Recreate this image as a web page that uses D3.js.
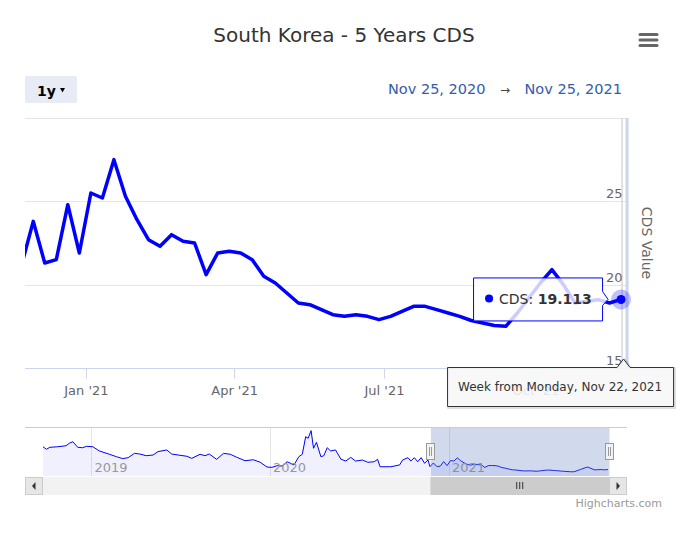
<!DOCTYPE html>
<html>
<head>
<meta charset="utf-8">
<script src="https://cdn.jsdelivr.net/npm/d3@7/dist/d3.min.js"></script>
<style>
  body { margin: 0; background: #fff; }
  svg { display: block; font-family: "DejaVu Sans", Verdana, sans-serif; }
</style>
</head>
<body>
<svg id="chart" width="692" height="538"></svg>
<script>
// chart texts
var chartTitle = "South Korea - 5 Years CDS";
var seriesName = "CDS";
var axisTitle = "CDS Value";
var rangeButton = "1y";
var creditText = "Highcharts.com";

// visible range and weekly series (weeks start on Monday)
var rangeStart = "2020-11-25",
    rangeEnd = "2021-11-25",
    firstWeek = "2020-11-23";

var cdsValues = [
    21.2, 23.8, 21.3, 21.5, 24.8, 21.9, 25.5, 25.2, 27.5, 25.3,
    23.9, 22.7, 22.3, 23.0, 22.6, 22.5, 20.6, 21.9, 22.0, 21.9,
    21.5, 20.5, 20.1, 19.5, 18.9, 18.8, 18.5, 18.2, 18.1, 18.2,
    18.1, 17.9, 18.1, 18.4, 18.7, 18.7, 18.5, 18.3, 18.1, 17.85,
    17.7, 17.55, 17.5, 18.3, 19.2, 20.1, 20.9, 20.0, 18.9, 19.0,
    19.1, 18.9, 19.113
];

var yTicks = [15, 20, 25, 30];

// older history, only seen in the navigator
var historyDates = [
    "2018-09-24", "2018-10-01", "2018-10-08", "2018-10-24", "2018-11-10", "2018-11-17",
    "2018-11-24", "2018-12-04", "2018-12-14", "2018-12-22", "2019-01-04", "2019-01-17",
    "2019-02-07", "2019-02-21", "2019-03-06", "2019-03-17", "2019-03-30", "2019-04-10",
    "2019-04-23", "2019-05-07", "2019-05-17", "2019-06-04", "2019-06-14", "2019-07-01",
    "2019-07-15", "2019-07-25", "2019-08-11", "2019-08-21", "2019-08-30", "2019-09-14",
    "2019-09-28", "2019-10-12", "2019-10-25", "2019-11-11", "2019-11-28", "2019-12-12",
    "2019-12-26", "2020-01-05", "2020-01-16", "2020-01-26", "2020-02-05", "2020-02-19",
    "2020-02-29", "2020-03-07", "2020-03-14", "2020-03-19", "2020-03-25", "2020-03-30",
    "2020-04-05", "2020-04-14", "2020-04-20", "2020-04-27", "2020-05-04", "2020-05-14",
    "2020-05-25", "2020-06-04", "2020-06-14", "2020-06-24", "2020-07-08", "2020-07-19",
    "2020-08-01", "2020-08-08", "2020-08-13", "2020-09-04", "2020-09-22", "2020-09-28",
    "2020-10-09", "2020-10-15", "2020-10-22", "2020-10-29", "2020-11-05", "2020-11-12",
    "2020-11-19"
];
var historyValues = [
    35.4, 33.6, 35.0, 35.4, 36.1, 37.9,
    39.0, 35.0, 34.7, 35.7, 35.4, 32.4,
    30.0, 28.3, 26.9, 27.6, 30.7, 30.2,
    29.0, 29.5, 31.9, 33.1, 30.2, 29.3,
    28.6, 27.1, 30.0, 29.0, 30.2, 26.4,
    30.7, 30.0, 27.9, 25.4, 26.1, 24.3,
    20.9, 20.7, 21.9, 21.6, 24.7, 22.4,
    28.3, 30.0, 42.6, 41.4, 46.9, 34.3,
    38.6, 28.3, 29.0, 34.7, 32.4, 33.1,
    26.5, 25.2, 27.8, 25.2, 25.9, 24.3,
    24.7, 26.4, 21.1, 21.1, 22.4, 25.9,
    27.6, 25.2, 27.6, 24.7, 27.6, 23.6,
    25.9
];
var navYears = ["2019-01-01", "2020-01-01", "2021-01-01"];
var navRange = [14.5, 49.5];

drawChart();

function drawChart() {
    var parse = d3.timeParse("%Y-%m-%d");
    var start = parse(rangeStart),
        end = parse(rangeEnd);
    var weeks = d3.timeMonday.range(parse(firstWeek), d3.timeDay.offset(end, 1));

    var data = cdsValues.map(function(v, i) {
        return { date: weeks[i], value: v };
    });
    var navData = historyValues.map(function(v, i) {
        return { date: parse(historyDates[i]), value: v };
    }).concat(data);

    var svg = d3.select("#chart");
    var plot = { left: 25, right: 626, top: 118, bottom: 368 };

    var x = d3.scaleTime().domain([start, end]).range([plot.left, plot.right]);
    var y = d3.scaleLinear().domain([15, 30]).range([plot.bottom, plot.top]);

    // title and menu
    svg.append("text")
        .attr("x", 344).attr("y", 42)
        .attr("text-anchor", "middle")
        .attr("fill", "#333")
        .style("font-size", "20px")
        .text(chartTitle);

    svg.append("g").selectAll("line")
        .data([34.5, 40, 45.5])
        .enter().append("line")
        .attr("x1", 640).attr("x2", 657)
        .attr("y1", function(d) { return d; })
        .attr("y2", function(d) { return d; })
        .attr("stroke", "#666")
        .attr("stroke-width", 3)
        .attr("stroke-linecap", "round");

    // range selector
    svg.append("rect")
        .attr("x", 25).attr("y", 76)
        .attr("width", 52).attr("height", 27)
        .attr("rx", 2)
        .attr("fill", "#e6ebf5");
    svg.append("text")
        .attr("x", 37).attr("y", 96)
        .attr("fill", "#000")
        .style("font-size", "14px")
        .style("font-weight", "bold")
        .text(rangeButton);
    svg.append("path")
        .attr("d", "M60,88 L65,88 L62.5,92.5 Z")
        .attr("fill", "#000");

    var fmtDay = d3.timeFormat("%b %d, %Y");
    svg.append("text")
        .attr("x", 622).attr("y", 94)
        .attr("text-anchor", "end")
        .attr("fill", "#335cad")
        .style("font-size", "14.5px")
        .text(fmtDay(end));
    svg.append("text")
        .attr("x", 505).attr("y", 94)
        .attr("text-anchor", "middle")
        .attr("fill", "#444")
        .style("font-size", "12px")
        .text("\u2192");
    svg.append("text")
        .attr("x", 388).attr("y", 94)
        .attr("fill", "#335cad")
        .style("font-size", "14.5px")
        .text(fmtDay(start));

    // grid
    svg.append("g").selectAll("line")
        .data(yTicks.slice(1))
        .enter().append("line")
        .attr("x1", plot.left).attr("x2", plot.right + 2)
        .attr("y1", function(d) { return Math.round(y(d)) + 0.5; })
        .attr("y2", function(d) { return Math.round(y(d)) + 0.5; })
        .attr("stroke", "#e6e6e6");

    // x axis
    var xAxis = svg.append("g")
        .attr("transform", "translate(0," + (plot.bottom + 0.5) + ")")
        .call(d3.axisBottom(x)
            .ticks(d3.timeMonth.every(3))
            .tickFormat(d3.timeFormat("%b '%y"))
            .tickSize(10)
            .tickPadding(7));
    xAxis.select(".domain").attr("stroke", "#ccd6eb").attr("d", "M" + plot.left + ",0H" + (plot.right + 2));
    xAxis.selectAll(".tick line").attr("stroke", "#ccd6eb");
    xAxis.selectAll(".tick text")
        .attr("fill", "#666")
        .style("font-size", "13px")
        .style("font-family", "DejaVu Sans, sans-serif");

    // crosshair at the hovered week
    var last = data[data.length - 1];
    var px = x(last.date), py = y(last.value);
    svg.append("line")
        .attr("x1", px + 1).attr("x2", px + 1)
        .attr("y1", plot.top).attr("y2", plot.bottom)
        .attr("stroke", "#d8d8d8")
        .attr("stroke-width", 1.5);
    svg.append("line")
        .attr("x1", px + 6).attr("x2", px + 6)
        .attr("y1", plot.top).attr("y2", plot.bottom + 1)
        .attr("stroke", "#ccd6eb")
        .attr("stroke-width", 3);

    // y axis labels and title (right side)
    svg.append("g").selectAll("text")
        .data(yTicks.slice(0, 3))
        .enter().append("text")
        .attr("x", 622.5)
        .attr("y", function(d) { return y(d) - 3; })
        .attr("text-anchor", "end")
        .attr("fill", "#666")
        .style("font-size", "13px")
        .text(function(d) { return d; });

    svg.append("text")
        .attr("transform", "translate(642,243) rotate(90)")
        .attr("text-anchor", "middle")
        .attr("fill", "#666")
        .style("font-size", "14px")
        .text(axisTitle);

    // series
    svg.append("clipPath").attr("id", "plot-clip")
        .append("rect")
        .attr("x", plot.left).attr("y", plot.top - 10)
        .attr("width", plot.right - plot.left).attr("height", plot.bottom - plot.top + 20);

    var line = d3.line()
        .x(function(d) { return x(d.date); })
        .y(function(d) { return y(d.value); });

    svg.append("path")
        .datum(data)
        .attr("clip-path", "url(#plot-clip)")
        .attr("fill", "none")
        .attr("stroke", "#0000ff")
        .attr("stroke-width", 3.5)
        .attr("stroke-linejoin", "round")
        .attr("stroke-linecap", "round")
        .attr("d", line);

    // hover marker
    svg.append("circle")
        .attr("cx", px).attr("cy", py).attr("r", 10)
        .attr("fill", "#0000ff").attr("fill-opacity", 0.25);
    svg.append("circle")
        .attr("cx", px).attr("cy", py).attr("r", 4.5)
        .attr("fill", "#0000ff");

    // point tooltip
    var bx = px - 148, bw = 129, by = py - 22, bh = 43;
    svg.append("path")
        .attr("d", "M" + (bx + 0.5) + "," + (by + 0.5) +
            "H" + (bx + bw + 0.5) + "V" + (py - 8) +
            "L" + (px - 13) + "," + py +
            "L" + (bx + bw + 0.5) + "," + (py + 6) +
            "V" + (by + bh + 0.5) + "H" + (bx + 0.5) + "Z")
        .attr("fill", "rgba(255,255,255,0.8)")
        .attr("stroke", "#0000ff");
    svg.append("circle")
        .attr("cx", bx + 16).attr("cy", py - 1).attr("r", 4)
        .attr("fill", "#0000ff");
    var tt = svg.append("text")
        .attr("x", bx + 26).attr("y", py + 5)
        .attr("fill", "#333")
        .style("font-size", "14px");
    tt.append("tspan").text(seriesName + ": ");
    tt.append("tspan").style("font-weight", "bold").text(d3.format(".3f")(last.value));

    // x axis label tooltip
    var lx = px - 174, lw = 226, ly = 367, lh = 39;
    var labelPath = "M" + (lx + 0.5) + "," + (ly + 0.5) +
        "H" + (px - 4) + "L" + (px + 2.5) + "," + (ly - 8) + "L" + (px + 9) + "," + (ly + 0.5) +
        "H" + (lx + lw + 0.5) + "V" + (ly + lh + 0.5) + "H" + (lx + 0.5) + "Z";
    svg.append("path")
        .attr("d", labelPath)
        .attr("transform", "translate(1,1)")
        .attr("fill", "none")
        .attr("stroke", "rgba(0,0,0,0.12)")
        .attr("stroke-width", 3);
    svg.append("path")
        .attr("d", labelPath)
        .attr("fill", "rgba(247,247,247,0.88)")
        .attr("stroke", "#333");
    svg.append("text")
        .attr("x", lx + lw / 2).attr("y", 391)
        .attr("text-anchor", "middle")
        .attr("fill", "#333")
        .style("font-size", "12px")
        .text(d3.timeFormat("Week from %A, %b %d, %Y")(last.date));

    // navigator
    var nav = { left: 43, right: 609.5, top: 427, bottom: 476 };
    var nx = d3.scaleTime().domain([navData[0].date, end]).range([nav.left, nav.right]);
    var ny = d3.scaleLinear().domain(navRange).range([nav.bottom, nav.top]);

    svg.append("g").selectAll("line")
        .data(navYears.map(parse))
        .enter().append("line")
        .attr("x1", function(d) { return Math.round(nx(d)) + 0.5; })
        .attr("x2", function(d) { return Math.round(nx(d)) + 0.5; })
        .attr("y1", nav.top).attr("y2", nav.bottom)
        .attr("stroke", "#e6e6e6");

    var navArea = d3.area()
        .x(function(d) { return nx(d.date); })
        .y0(nav.bottom)
        .y1(function(d) { return ny(d.value); });
    var navLine = d3.line()
        .x(function(d) { return nx(d.date); })
        .y(function(d) { return ny(d.value); });

    svg.append("path").datum(navData)
        .attr("fill", "#0000ff").attr("fill-opacity", 0.06)
        .attr("d", navArea);
    svg.append("path").datum(navData)
        .attr("fill", "none")
        .attr("stroke", "#0000ff")
        .attr("stroke-width", 1)
        .attr("d", navLine);

    svg.append("g").selectAll("text")
        .data(navYears.map(parse))
        .enter().append("text")
        .attr("x", function(d) { return nx(d) + 3; })
        .attr("y", 472)
        .attr("fill", "#999")
        .style("font-size", "13px")
        .text(d3.timeFormat("%Y"));

    var m0 = nx(start), m1 = nx(end);
    svg.append("rect")
        .attr("x", m0).attr("y", nav.top)
        .attr("width", m1 - m0).attr("height", nav.bottom - nav.top)
        .attr("fill", "rgba(102,133,194,0.3)");
    svg.append("line")
        .attr("x1", 25).attr("x2", 627)
        .attr("y1", nav.top + 0.5).attr("y2", nav.top + 0.5)
        .attr("stroke", "#cccccc");

    [m0, m1].forEach(function(h) {
        var hx = Math.round(h);
        svg.append("rect")
            .attr("x", hx - 4.5).attr("y", 443.5)
            .attr("width", 8).attr("height", 16)
            .attr("fill", "#f2f2f2").attr("stroke", "#999");
        svg.append("path")
            .attr("d", "M" + (hx - 1.5) + ",447V456M" + (hx + 0.5) + ",447V456")
            .attr("stroke", "#999");
    });

    // scrollbar
    var sy = 477, sh = 17;
    svg.append("rect")
        .attr("x", 25.5).attr("y", sy + 0.5).attr("width", 601).attr("height", sh)
        .attr("fill", "#f2f2f2").attr("stroke", "#f2f2f2");
    svg.append("rect")
        .attr("x", m0).attr("y", sy + 0.5).attr("width", m1 - m0).attr("height", sh)
        .attr("fill", "#cccccc").attr("stroke", "#cccccc");
    var rc = (m0 + m1) / 2;
    svg.append("path")
        .attr("d", "M" + (rc - 3.5) + "," + (sy + 5) + "V" + (sy + 12) +
            "M" + (rc - 0.5) + "," + (sy + 5) + "V" + (sy + 12) +
            "M" + (rc + 2.5) + "," + (sy + 5) + "V" + (sy + 12))
        .attr("stroke", "#333");
    [25.5, 609.5].forEach(function(bxp, i) {
        svg.append("rect")
            .attr("x", bxp).attr("y", sy + 0.5).attr("width", 17).attr("height", sh)
            .attr("fill", "#e6e6e6").attr("stroke", "#cccccc");
        var cx = bxp + 8.5, cy = sy + 9;
        svg.append("path")
            .attr("d", i === 0
                ? "M" + (cx + 1.5) + "," + (cy - 4) + "L" + (cx - 2) + "," + cy + "L" + (cx + 1.5) + "," + (cy + 4) + "Z"
                : "M" + (cx - 1.5) + "," + (cy - 4) + "L" + (cx + 2) + "," + cy + "L" + (cx - 1.5) + "," + (cy + 4) + "Z")
            .attr("fill", "#333");
    });

    // credits
    svg.append("text")
        .attr("x", 662).attr("y", 507)
        .attr("text-anchor", "end")
        .attr("fill", "#999")
        .style("font-size", "11px")
        .text(creditText);
}
</script>
</body>
</html>
